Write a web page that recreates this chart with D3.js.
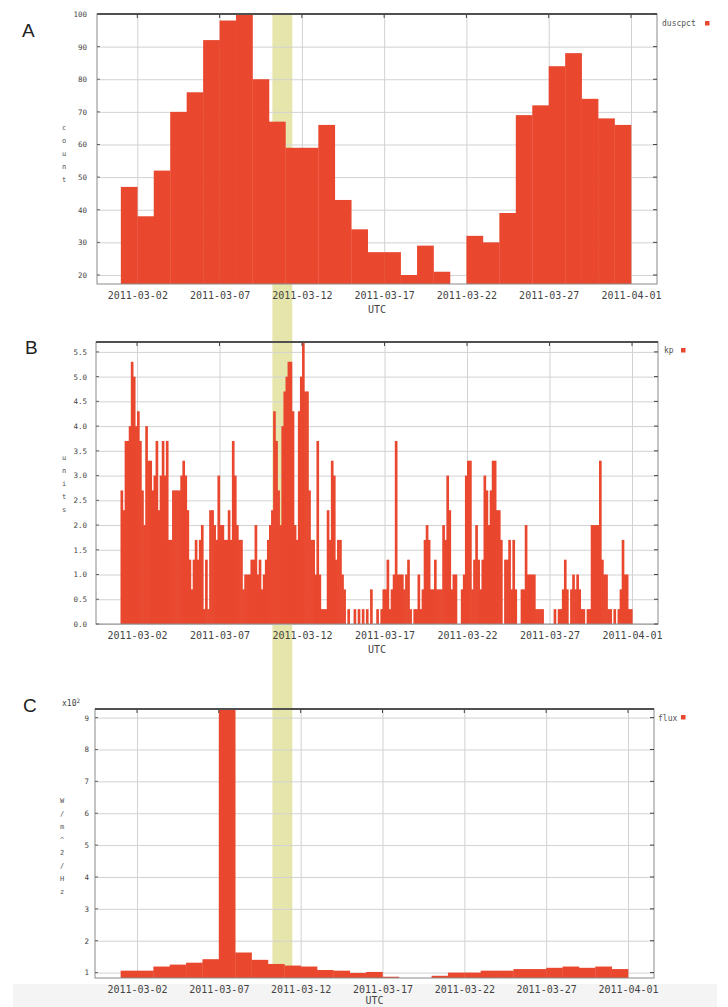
<!DOCTYPE html>
<html>
<head>
<meta charset="utf-8">
<script src="https://cdn.jsdelivr.net/npm/d3@7"></script>
<style>
  body { margin: 0; background: #fff; }
  svg text { font-family: "DejaVu Sans Mono", monospace; fill: #444; }
  .grid line { stroke: #d2d2d2; stroke-width: 1; }
  .grid path { display: none; }
  .x-axis text { font-size: 10px; }
  .y-axis text { font-size: 7.5px; }
  .panel-letter { font-family: "Liberation Sans", Arial, sans-serif !important; font-size: 19px; fill: #222 !important; }
  .legend { font-size: 8px; fill: #555 !important; }
  .y-label { font-size: 7px; fill: #555 !important; }
</style>
</head>
<body>
<div id="wrapper"></div>
<script>
// 1. Data

const dates = [
  "2011-03-01", "2011-03-02", "2011-03-03", "2011-03-04", "2011-03-05", "2011-03-06",
  "2011-03-07", "2011-03-08", "2011-03-09", "2011-03-10", "2011-03-11", "2011-03-12",
  "2011-03-13", "2011-03-14", "2011-03-15", "2011-03-16", "2011-03-17", "2011-03-18",
  "2011-03-19", "2011-03-20", "2011-03-21", "2011-03-22", "2011-03-23", "2011-03-24",
  "2011-03-25", "2011-03-26", "2011-03-27", "2011-03-28", "2011-03-29", "2011-03-30",
  "2011-03-31",
];

const tickDates = ["2011-03-02", "2011-03-07", "2011-03-12", "2011-03-17", "2011-03-22", "2011-03-27", "2011-04-01"];

// highlighted interval (yellow band across all three panels)
const highlight = ["2011-03-10T05:00:00Z", "2011-03-11T10:00:00Z"];

// A: daily duscpct, no value on 03-21
const duscpct = [47, 38, 52, 70, 76, 92, 98, 100, 80, 67, 59, 59, 66, 43, 34, 27, 27, 20, 29, 21,
  null, 32, 30, 39, 69, 72, 84, 88, 74, 68, 66];

// B: kp, eight 3-hour values per day
const kpByDay = [
  [2.7, 2.3, 3.7, 3.7, 4.0, 5.3, 5.0, 4.0],
  [4.3, 3.7, 2.7, 2.0, 4.0, 3.3, 3.3, 2.7],
  [3.0, 3.7, 2.3, 3.0, 3.7, 3.0, 3.7, 1.7],
  [1.7, 2.7, 2.7, 2.7, 2.7, 3.0, 3.3, 3.0],
  [2.3, 1.3, 0.7, 1.3, 1.7, 1.3, 1.7, 2.0],
  [0.3, 1.3, 0.3, 2.3, 2.3, 2.0, 1.7, 3.0],
  [2.0, 2.0, 1.7, 1.7, 2.3, 1.7, 3.7, 3.0],
  [2.0, 1.7, 1.7, 0.7, 1.0, 1.0, 1.0, 1.3],
  [1.3, 2.0, 1.0, 1.3, 0.7, 1.0, 1.3, 1.7],
  [2.0, 2.3, 4.3, 3.7, 2.7, 2.0, 4.0, 4.7],
  [5.0, 5.3, 5.3, 4.3, 2.0, 1.7, 4.3, 5.0],
  [5.7, 4.7, 4.7, 2.7, 1.7, 1.7, 1.0, 3.7],
  [1.0, 0.3, 0.3, 0.3, 2.3, 1.7, 3.3, 3.0],
  [1.3, 1.7, 1.7, 1.0, 0.7, 0, 0.3, 0],
  [0, 0.3, 0, 0.3, 0, 0.3, 0, 0.3],
  [0, 0.7, 0, 0, 0.3, 0, 0.3, 0.7],
  [0.7, 1.3, 0.3, 0.7, 1.0, 3.7, 1.0, 1.0],
  [1.0, 0.7, 1.0, 1.3, 0.3, 0, 0.3, 0.3],
  [1.0, 0.3, 0.7, 1.7, 2.0, 1.7, 0.7, 0.7],
  [1.3, 0.7, 0.7, 0.7, 2.0, 1.7, 3.0, 2.3],
  [0.7, 1.0, 1.0, 0, 0, 0.7, 1.0, 3.0],
  [3.3, 3.3, 0.7, 1.3, 2.0, 1.3, 0.7, 1.3],
  [3.0, 2.7, 2.0, 2.7, 3.3, 3.3, 2.3, 2.3],
  [1.7, 0, 1.3, 1.3, 1.7, 0.7, 1.7, 0.7],
  [0, 0, 0.7, 0.7, 2.0, 1.0, 1.0, 1.0],
  [1.0, 0.3, 0.3, 0.3, 0.3, 0, 0, 0],
  [0, 0, 0.3, 0, 0.3, 0.3, 0.7, 1.3],
  [0.7, 0, 0.7, 1.0, 0.7, 1.0, 0.7, 0.3],
  [0.3, 0, 0.3, 0.3, 2.0, 2.0, 2.0, 2.0],
  [3.3, 1.3, 1.0, 1.0, 0.3, 0.3, 0, 0.3],
  [0, 0.3, 0.7, 1.7, 1.0, 1.0, 0.3, 0.3],
];

// C: daily flux (W/m^2/Hz, shown x10^2); 03-07 runs off the top
const flux = [106, 106, 119, 125, 131, 142, 935, 163, 140, 127, 122, 119, 108, 106, 99, 102,
  87, 83, 83, 90, 100, 100, 106, 106, 111, 111, 115, 119, 115, 119, 111];

const yTicksA = [20, 30, 40, 50, 60, 70, 80, 90, 100];
const yTicksB = [0, 0.5, 1, 1.5, 2, 2.5, 3, 3.5, 4, 4.5, 5, 5.5];
const yTicksC = [100, 200, 300, 400, 500, 600, 700, 800, 900];

// 2. Accessors and helpers

const parseDay = d3.utcParse("%Y-%m-%d");
const formatDay = d3.utcFormat("%Y-%m-%d");
const barColor = "#e9472e";

const dailyBars = values => dates
  .map((d, i) => ({ t0: parseDay(d), t1: d3.utcDay.offset(parseDay(d), 1), v: values[i] }))
  .filter(d => d.v != null);

const kpBars = dates.flatMap((d, i) => kpByDay[i].map((v, j) => ({
  t0: d3.utcHour.offset(parseDay(d), 3 * j),
  t1: d3.utcHour.offset(parseDay(d), 3 * j + 3),
  v,
}))).filter(d => d.v > 0);

// 3. Canvas

const width = 728;
const height = 1007;

const wrapper = d3.select("#wrapper")
  .append("svg")
    .attr("width", width)
    .attr("height", height);

wrapper.append("rect")
    .attr("x", 13)
    .attr("y", 984)
    .attr("width", 704)
    .attr("height", 23)
    .attr("fill", "#f4f4f4");

const panels = [
  {
    letter: "A", letterPos: [22, 37],
    left: 97, top: 14, width: 560, height: 270,
    xRange: [40.3, 534],
    yDomain: [17.24, 100], yTicks: yTicksA, yFormat: d3.format("d"), yPad: 10,
    bars: dailyBars(duscpct), overlap: 0.3,
    legend: "duscpct", legendPos: [565, 12], squarePos: [608, 7],
    yLabel: "count", yLabelPos: [-33, 116],
    utcOffset: 29,
  },
  {
    letter: "B", letterPos: [25, 354],
    left: 96, top: 342, width: 562, height: 282,
    xRange: [41, 536],
    yDomain: [0, 5.7], yTicks: yTicksB, yFormat: d3.format(".1f"), yPad: 9,
    bars: kpBars, overlap: 0.6,
    legend: "kp", legendPos: [568, 11], squarePos: [585, 6],
    yLabel: "units", yLabelPos: [-32, 118],
    utcOffset: 29,
  },
  {
    letter: "C", letterPos: [23, 712],
    left: 95, top: 709, width: 559, height: 269,
    xRange: [42, 533],
    yDomain: [83, 927], yTicks: yTicksC, yFormat: d => d / 100, yPad: 6,
    bars: dailyBars(flux), overlap: 0.3,
    legend: "flux", legendPos: [563, 12], squarePos: [586, 6],
    yLabel: "W/m^2/Hz", yLabelPos: [-33, 94],
    utcOffset: 26,
  },
];

// the yellow band sits behind everything, using panel A's time scale
const bandScale = d3.scaleUtc()
  .domain([parseDay(tickDates[0]), parseDay(tickDates[tickDates.length - 1])])
  .range(panels[0].xRange.map(x => x + panels[0].left));

wrapper.append("rect")
    .attr("x", bandScale(new Date(highlight[0])))
    .attr("width", bandScale(new Date(highlight[1])) - bandScale(new Date(highlight[0])))
    .attr("y", panels[0].top)
    .attr("height", panels[2].top + panels[2].height - panels[0].top)
    .attr("fill", "#e6e6ac");

// 4. Panels

panels.forEach(p => {
  const bounds = wrapper.append("g")
      .attr("transform", `translate(${p.left}, ${p.top})`);

  const xScale = d3.scaleUtc()
    .domain([parseDay(tickDates[0]), parseDay(tickDates[tickDates.length - 1])])
    .range(p.xRange);

  const yScale = d3.scaleLinear()
    .domain(p.yDomain)
    .range([p.height, 0])
    .clamp(true);

  const tickTimes = tickDates.map(parseDay);

  // grid + labels
  bounds.append("g")
      .attr("class", "grid y-axis")
    .call(d3.axisLeft(yScale)
      .tickValues(p.yTicks)
      .tickSize(-p.width)
      .tickPadding(p.yPad)
      .tickFormat(p.yFormat));

  bounds.append("g")
      .attr("class", "grid x-axis")
      .attr("transform", `translate(0, ${p.height})`)
    .call(d3.axisBottom(xScale)
      .tickValues(tickTimes)
      .tickSize(-p.height)
      .tickPadding(8)
      .tickFormat(formatDay));

  // bars (a hair of overlap hides antialiasing seams between neighbours)
  bounds.append("g")
    .selectAll("rect")
    .data(p.bars)
    .join("rect")
      .attr("x", d => xScale(d.t0))
      .attr("width", d => xScale(d.t1) - xScale(d.t0) + p.overlap)
      .attr("y", d => yScale(d.v))
      .attr("height", d => p.height - yScale(d.v))
      .attr("fill", barColor);

  // frame
  bounds.append("rect")
      .attr("width", p.width)
      .attr("height", p.height)
      .attr("fill", "none")
      .attr("stroke", "#8a8a8a");

  bounds.append("line")
      .attr("x2", p.width)
      .attr("stroke", "#505050")
      .attr("stroke-width", 2);

  // small inner ticks on the frame
  bounds.append("g")
    .selectAll("line")
    .data(tickTimes)
    .join("line")
      .attr("x1", d => xScale(d))
      .attr("x2", d => xScale(d))
      .attr("y2", 4)
      .attr("stroke", "#444");

  bounds.append("g")
    .selectAll("line")
    .data(p.yTicks)
    .join("line")
      .attr("x1", p.width - 4)
      .attr("x2", p.width)
      .attr("y1", d => yScale(d))
      .attr("y2", d => yScale(d))
      .attr("stroke", "#444");

  bounds.append("g")
    .selectAll("line")
    .data(p.yTicks)
    .join("line")
      .attr("x2", 3)
      .attr("y1", d => yScale(d))
      .attr("y2", d => yScale(d))
      .attr("stroke", "#666");

  // peripherals
  bounds.append("text")
      .attr("x", p.width / 2)
      .attr("y", p.height + p.utcOffset)
      .attr("text-anchor", "middle")
      .style("font-size", "10px")
      .text("UTC");

  bounds.append("text")
      .attr("class", "legend")
      .attr("x", p.legendPos[0])
      .attr("y", p.legendPos[1])
      .text(p.legend);

  bounds.append("rect")
      .attr("x", p.squarePos[0])
      .attr("y", p.squarePos[1])
      .attr("width", 4.5)
      .attr("height", 4.5)
      .attr("fill", barColor);

  bounds.append("g")
    .selectAll("text")
    .data(p.yLabel.split(""))
    .join("text")
      .attr("class", "y-label")
      .attr("x", p.yLabelPos[0])
      .attr("y", (d, i) => p.yLabelPos[1] + i * 13)
      .attr("text-anchor", "middle")
      .text(d => d);

  wrapper.append("text")
      .attr("class", "panel-letter")
      .attr("x", p.letterPos[0])
      .attr("y", p.letterPos[1])
      .text(p.letter);
});

// exponent note on panel C
const expLabel = wrapper.append("text")
    .attr("x", 62)
    .attr("y", 706)
    .style("font-size", "8px");
expLabel.append("tspan").text("x10");
expLabel.append("tspan")
    .attr("dy", -3)
    .style("font-size", "6px")
    .text("2");
</script>
</body>
</html>
